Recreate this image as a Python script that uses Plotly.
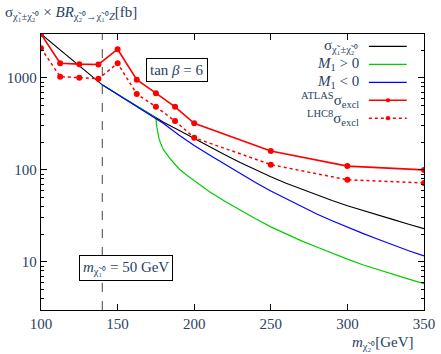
import plotly.graph_objects as go

# neutralino mass grid [GeV]
m_curve = [100, 110, 120, 130, 140, 150, 160, 170, 175, 180, 190, 200, 210, 220, 230, 240,
           250, 260, 270, 280, 290, 300, 310, 320, 330, 340, 350]
sigma_tot = [3000, 2180, 1590, 1155, 840, 662, 521, 411, 365, 330, 269, 218, 178, 146, 120, 100,
             84, 71.6, 61.6, 53.2, 46.5, 40.7, 36.1, 32.2, 28.8, 25.7, 23]

m_neg = [140, 150, 160, 170, 175, 180, 190, 200, 210, 220, 230, 240, 250, 260, 270, 280, 290,
         300, 310, 320, 330, 340, 350]
sigma_neg = [840, 662, 521, 411, 365, 320, 240, 184, 145, 115, 91, 73, 59, 48.4, 39.8, 33.1, 28,
             23.8, 20.4, 17.6, 15.2, 13.2, 11.6]

m_pos = [140, 150, 160, 170, 175, 175.5, 176, 177, 178, 180, 185, 190, 195, 200, 210, 220, 230,
         240, 250, 260, 270, 280, 290, 300, 310, 320, 330, 340, 350]
sigma_pos = [840, 662, 521, 411, 365, 300, 260, 220, 196, 165, 128, 103, 88, 77, 58, 45.7, 36.3,
             29.4, 24, 20, 16.9, 14.5, 12.4, 10.7, 9.3, 8.2, 7.3, 6.5, 5.8]

# exclusion limits
m_excl = [100, 112.5, 125, 137.5, 150, 162.5, 175, 187.5, 200, 250, 300, 350]
atlas_excl = [3000, 1440, 1410, 1400, 2050, 955, 682, 485, 321, 160, 110, 100]
lhc8_excl = [2100, 1030, 1005, 980, 1440, 670, 485, 340, 224, 114, 78, 72]

m_lsp_line = [140, 140]
y_full = [3, 3000]

FONT = "Liberation Serif"
RED = "#ff0000"

fig = go.Figure()
fig.add_trace(go.Scatter(x=m_lsp_line, y=y_full, mode="lines",
                         line=dict(color="#444444", width=1, dash="dash")))
fig.add_trace(go.Scatter(x=m_curve, y=sigma_tot, mode="lines", line=dict(color="black", width=1.1)))
fig.add_trace(go.Scatter(x=m_pos, y=sigma_pos, mode="lines", line=dict(color="#00cc00", width=1.2)))
fig.add_trace(go.Scatter(x=m_neg, y=sigma_neg, mode="lines", line=dict(color="#0000ff", width=1.2)))
fig.add_trace(go.Scatter(x=m_excl, y=lhc8_excl, mode="lines+markers",
                         line=dict(color=RED, width=1.5, dash="dot"),
                         marker=dict(color=RED, size=6)))
fig.add_trace(go.Scatter(x=m_excl, y=atlas_excl, mode="lines+markers",
                         line=dict(color=RED, width=1.6),
                         marker=dict(color=RED, size=6)))

# hand-made legend: text on the left, sample on the right
legend = [
    ("σ<sub>χ̃₁±χ̃₂⁰</sub>", "black", None, False),
    ("<i>M</i><sub>1</sub> > 0", "#00cc00", None, False),
    ("<i>M</i><sub>1</sub> < 0", "#0000ff", None, False),
    ("<sup>ATLAS</sup>σ<sub>excl</sub>", RED, None, True),
    ("<sup>LHC8</sup>σ<sub>excl</sub>", RED, "dot", True),
]
ys = [0.955, 0.89, 0.825, 0.76, 0.695]
for (label, col, dash, mk), yy in zip(legend, ys):
    fig.add_annotation(x=0.835, y=yy, xref="paper", yref="paper", text=label, showarrow=False,
                       xanchor="right", yanchor="middle", font=dict(size=15, family=FONT))
    fig.add_shape(type="line", xref="paper", yref="paper", x0=0.856, x1=0.955, y0=yy, y1=yy,
                  line=dict(color=col, width=1.5 if mk else 1.2, dash=dash or "solid"))
    if mk:
        fig.add_shape(type="circle", xref="paper", yref="paper", x0=0.9, x1=0.912,
                      y0=yy - 0.0075, y1=yy + 0.0075, fillcolor=col, line=dict(width=0))

fig.add_annotation(x=0.355, y=0.913, xref="paper", yref="paper", xanchor="center",
                   text="tan <i>β</i> = 6",
                   showarrow=False, font=dict(size=15, family=FONT), bordercolor="black",
                   borderwidth=1, borderpad=3, bgcolor="white")
fig.add_annotation(x=0.221, y=0.106, xref="paper", yref="paper", xanchor="center",
                   text="<i>m</i><sub>χ̃₁⁰</sub> = 50 GeV",
                   showarrow=False, font=dict(size=15, family=FONT), bordercolor="black",
                   borderwidth=1, borderpad=3, bgcolor="white")

# axis titles placed like the original
fig.add_annotation(x=-0.1, y=1.075, xref="paper", yref="paper", xanchor="left", yanchor="middle",
                   text="σ<sub>χ̃₁±χ̃₂⁰</sub> × <i>BR</i><sub>χ̃₂⁰→χ̃₁⁰<i>Z</i></sub>[fb]",
                   showarrow=False, font=dict(size=15, family=FONT))
fig.add_annotation(x=0.98, y=-0.12, xref="paper", yref="paper", xanchor="right", yanchor="middle",
                   text="<i>m</i><sub>χ̃₂⁰</sub>[GeV]",
                   showarrow=False, font=dict(size=15, family=FONT))

axis_common = dict(showgrid=False, zeroline=False, showline=True, linecolor="black", linewidth=1.4,
                   mirror="allticks", ticks="inside", tickcolor="black", ticklen=6,
                   tickfont=dict(size=15, family=FONT), automargin=False)
fig.update_xaxes(range=[100, 350], tickvals=[100, 150, 200, 250, 300, 350], **axis_common)
fig.update_yaxes(type="log", range=[0.477, 3.477], dtick=1,
                 minor=dict(ticks="inside", ticklen=3, dtick="D1", tickcolor="black"),
                 **axis_common)
fig.update_layout(width=441, height=354, showlegend=False, plot_bgcolor="white",
                  paper_bgcolor="white", margin=dict(l=41, r=17, t=34, b=44))
fig.write_html("out.html", config={"displayModeBar": False},
               post_script="document.body.style.margin='0';")
